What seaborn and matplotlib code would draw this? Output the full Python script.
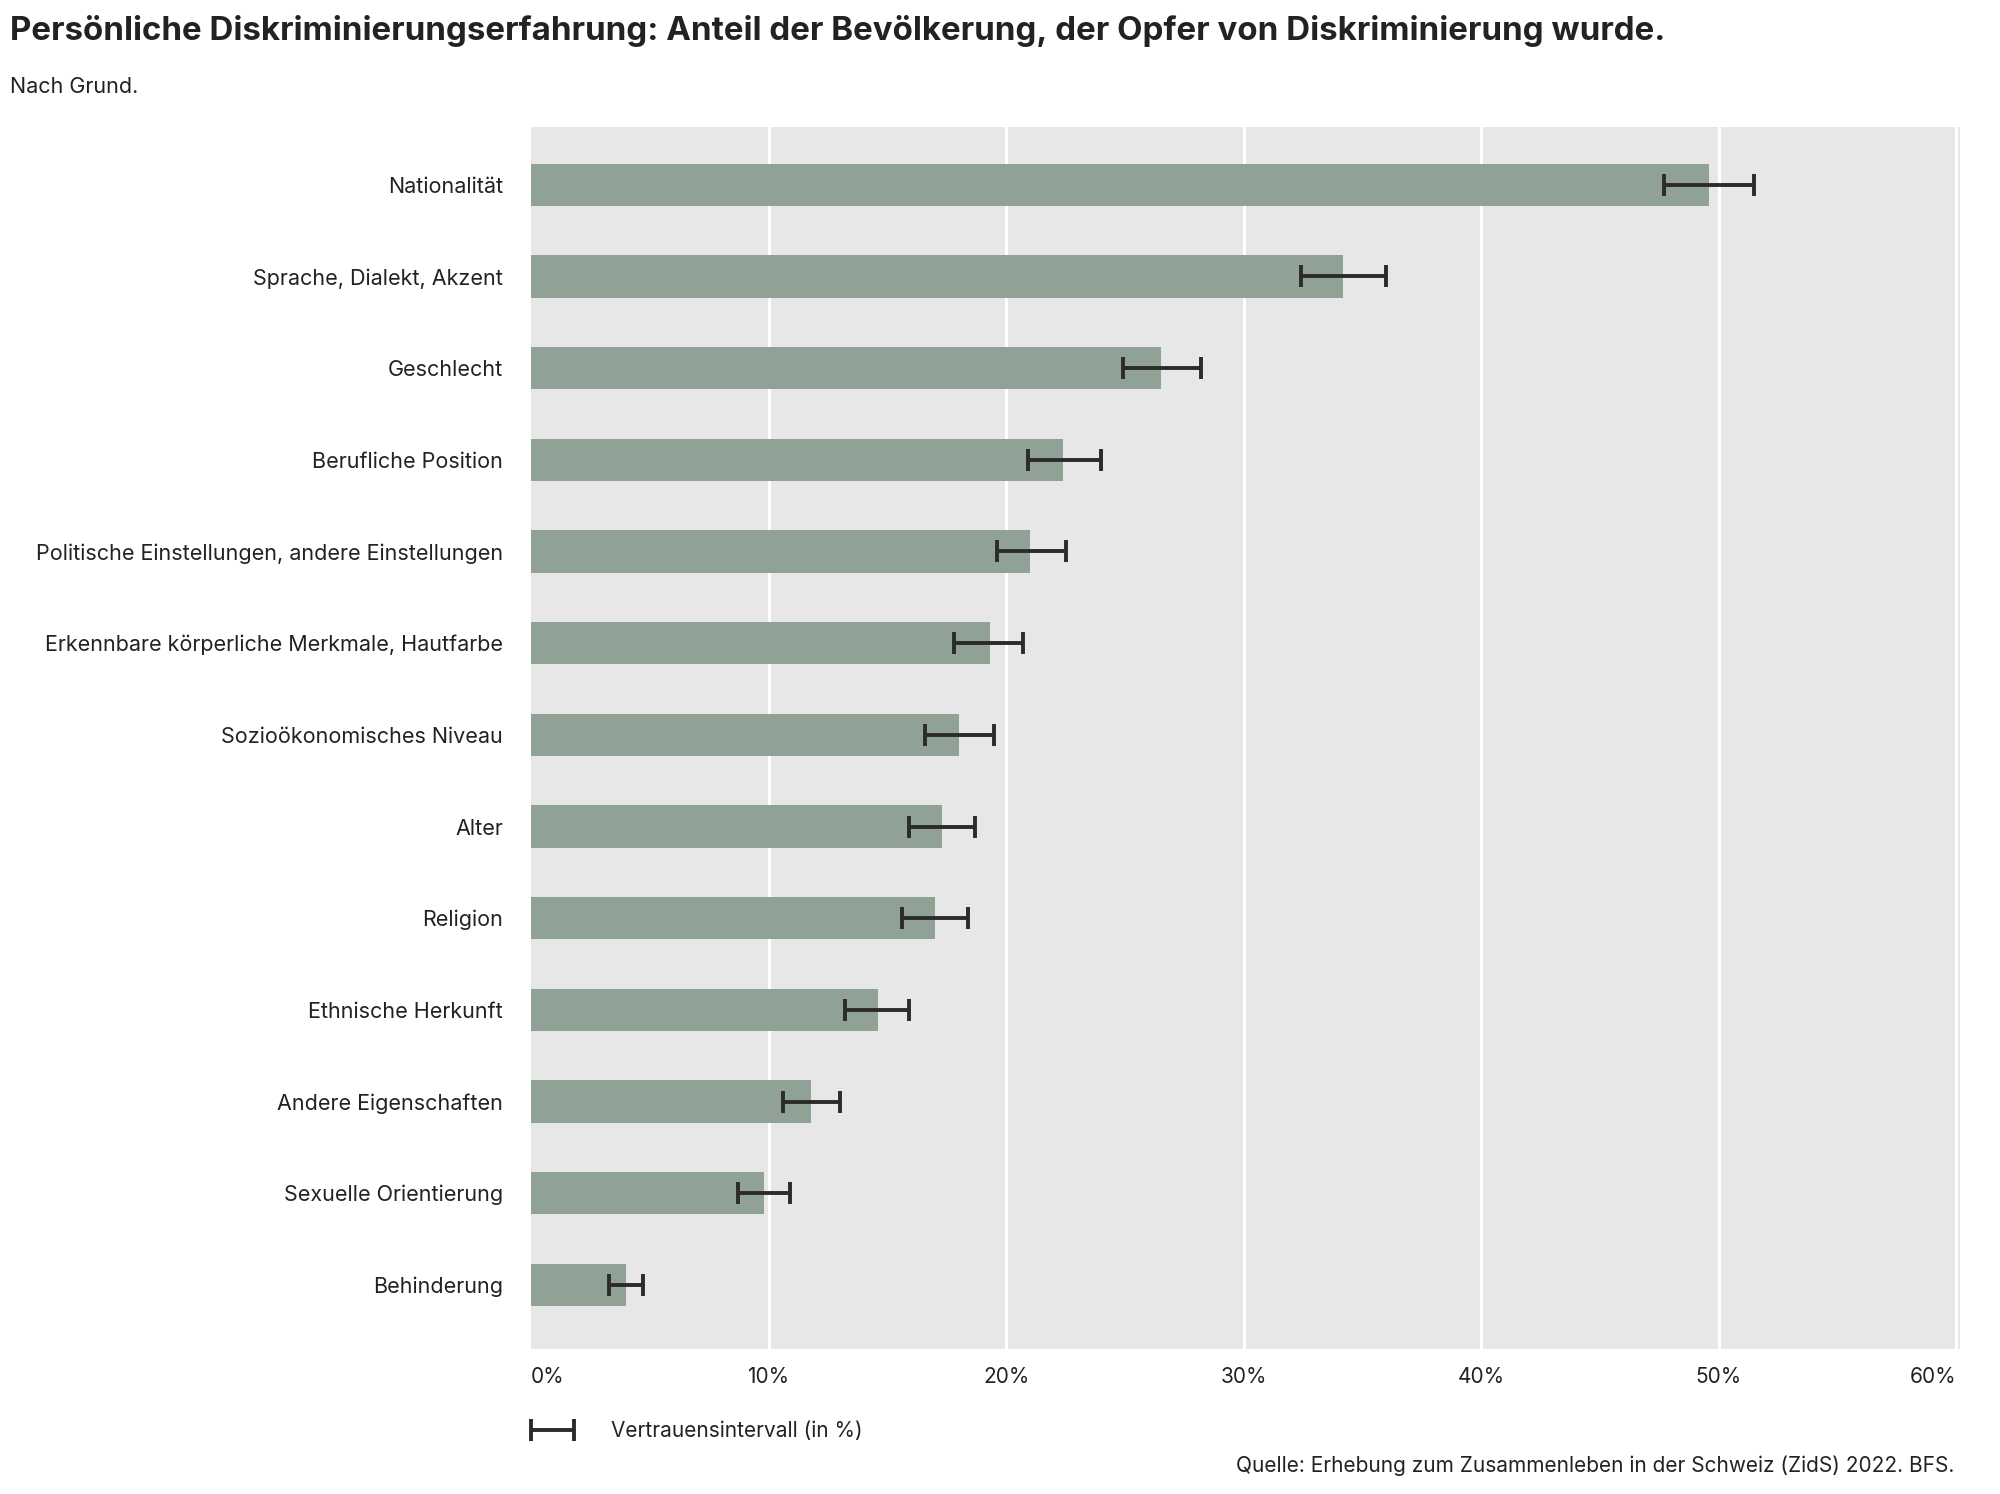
import matplotlib
matplotlib.use("Agg")
import matplotlib.pyplot as plt
from matplotlib.container import ErrorbarContainer
from matplotlib.legend_handler import HandlerErrorbar
import pandas as pd
import numpy as np
import seaborn as sns

categories = [
    "Nationalität",
    "Sprache, Dialekt, Akzent",
    "Geschlecht",
    "Berufliche Position",
    "Politische Einstellungen, andere Einstellungen",
    "Erkennbare körperliche Merkmale, Hautfarbe",
    "Sozioökonomisches Niveau",
    "Alter",
    "Religion",
    "Ethnische Herkunft",
    "Andere Eigenschaften",
    "Sexuelle Orientierung",
    "Behinderung",
]
share = [49.6, 34.2, 26.5, 22.4, 21.0, 19.3, 18.0, 17.3, 17.0, 14.6, 11.8, 9.8, 4.0]
ci_low = [47.7, 32.4, 24.9, 20.9, 19.6, 17.8, 16.6, 15.9, 15.6, 13.2, 10.6, 8.7, 3.3]
ci_high = [51.5, 36.0, 28.2, 24.0, 22.5, 20.7, 19.5, 18.7, 18.4, 15.9, 13.0, 10.9, 4.7]
xticks = [0, 10, 20, 30, 40, 50, 60]

df = pd.DataFrame({"grund": categories, "anteil": share, "lo": ci_low, "hi": ci_high})

sns.set_theme(style="white")
plt.rcParams["font.family"] = ["Inter", "DejaVu Sans"]

fig = plt.figure(figsize=(20, 14.94), dpi=100)
ax = fig.add_axes([0.2655, 0.097, 0.7145, 0.818])
ax.set_facecolor("#e7e7e7")

sns.barplot(data=df, x="anteil", y="grund", orient="h", color="#90a295",
            saturation=1, width=0.46, linewidth=0, ax=ax, zorder=2)

ax.errorbar(df["anteil"], np.arange(len(df)),
            xerr=[df["anteil"] - df["lo"], df["hi"] - df["anteil"]],
            fmt="none", ecolor="#2b2b2b", elinewidth=2.8, capsize=8,
            capthick=2.8, zorder=3, label="Vertrauensintervall (in %)")

ax.set_xlim(0, 60.15)
ax.set_ylim(12.7, -0.63)
ax.set_xticks(xticks)
ax.set_xticklabels([f"{t}%" for t in xticks], fontsize=15, color="#222222")
labels = ax.get_xticklabels()
labels[0].set_ha("left")
labels[-1].set_ha("right")
ax.tick_params(axis="x", length=0, pad=13)
ax.tick_params(axis="y", length=0, pad=20, labelsize=15.5, labelcolor="#222222")
ax.grid(axis="x", color="white", linewidth=2.2, zorder=1)
ax.xaxis.get_gridlines()[0].set_visible(False)
ax.set_axisbelow(True)
ax.set_xlabel("")
ax.set_ylabel("")
for s in ax.spines.values():
    s.set_visible(False)

fig.text(0.005, 0.979, "Persönliche Diskriminierungserfahrung: Anteil der Bevölkerung, der Opfer von Diskriminierung wurde.",
         fontsize=23.8, fontweight="bold", color="#222222", va="center", ha="left")
fig.text(0.005, 0.942, "Nach Grund.", fontsize=15.5, color="#222222", va="center", ha="left")

ax.legend(loc="center left", bbox_to_anchor=(0.2655, 0.042), bbox_transform=fig.transFigure,
          frameon=False, fontsize=15, handlelength=2.1, handletextpad=1.75,
          borderpad=0, borderaxespad=0, labelcolor="#222222",
          handler_map={ErrorbarContainer: HandlerErrorbar(xerr_size=1.03)})
fig.text(0.977, 0.019, "Quelle: Erhebung zum Zusammenleben in der Schweiz (ZidS) 2022. BFS.",
         fontsize=15, color="#222222", ha="right", va="center")

fig.savefig("out.png", dpi=100)
